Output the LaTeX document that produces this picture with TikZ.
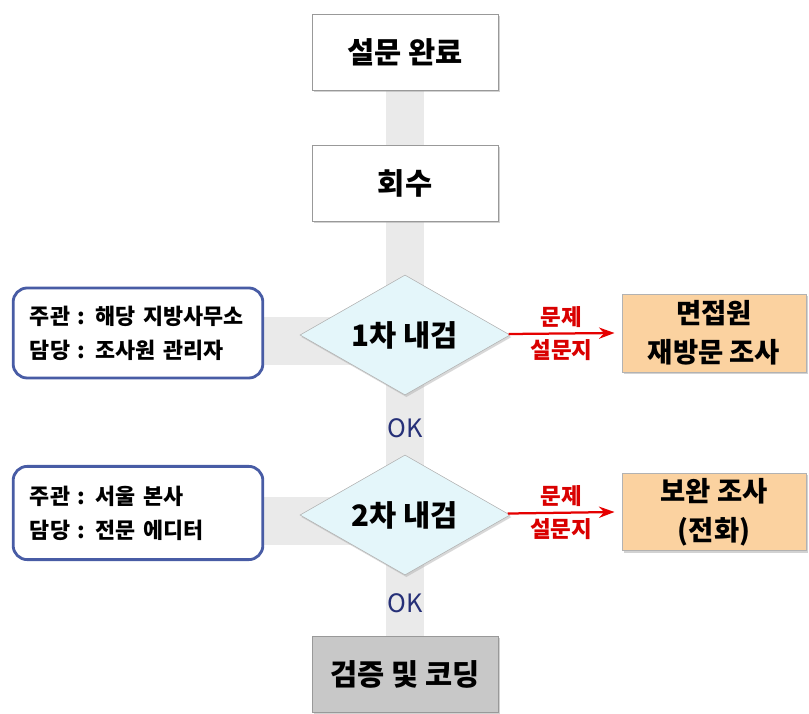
\documentclass[tikz,border=0pt]{standalone}
\usepackage{fontspec}
\setmainfont{Noto Sans CJK KR}
\newfontfamily\okfont{Noto Sans CJK KR}
\usepackage{xcolor}
\usetikzlibrary{shapes.geometric, arrows.meta, positioning, backgrounds, shadows}
\definecolor{bandgray}{RGB}{234,234,234}
\definecolor{orgblue}{RGB}{72,92,165}
\definecolor{checkcyan}{RGB}{228,246,250}
\definecolor{revisitorange}{RGB}{251,210,160}
\definecolor{okblue}{RGB}{38,48,120}
\definecolor{codinggray}{RGB}{200,200,200}

\begin{document}
\begin{tikzpicture}[
    x=0.025cm, y=-0.025cm,
    stepbox/.style={draw=gray!80, fill=white, minimum width=4.65cm, minimum height=1.9cm, font=\fontsize{21}{26}\selectfont\bfseries, drop shadow={shadow xshift=1.2pt, shadow yshift=-1.2pt, fill=gray!70}},
    check/.style={diamond, aspect=1.75, draw=gray!60, fill=checkcyan, inner sep=0pt, minimum width=5.25cm, minimum height=3cm, font=\fontsize{21}{26}\selectfont\bfseries, drop shadow={shadow xshift=1pt, shadow yshift=-1.5pt, fill=gray!60}},
    org/.style={draw=orgblue, line width=2pt, fill=white, rounded corners=10pt, text width=5.4cm, inner xsep=0.42cm, minimum height=2.25cm, align=left, font=\fontsize{15.5}{24}\selectfont\bfseries},
    redo/.style={draw=gray!60, fill=revisitorange, minimum width=4.6cm, minimum height=1.95cm, align=center, font=\fontsize{19.5}{28}\selectfont\bfseries, drop shadow={shadow xshift=1.5pt, shadow yshift=-1.5pt, fill=gray!70}},
    band/.style={bandgray, line width=0.95cm},
    fault/.style={font=\fontsize{16}{18}\selectfont\bfseries, text=red!85!black},
    ok/.style={font=\okfont\fontsize{18}{20}\selectfont, text=okblue}
]
    \useasboundingbox (0,0) rectangle (809,714);

    \node[stepbox] (done) at (405,52) {설문 완료};
    \node[stepbox] (collect) at (405,183) {회수};
    \node[check] (check1) at (405,335) {1차 내검};
    \node[check] (check2) at (405,515) {2차 내검};
    \node[stepbox, fill=codinggray] (coding) at (405,674) {검증 및 코딩};

    \node[org] (org1) at (138,333) {주관 : 해당 지방사무소\\담당 : 조사원 관리자};
    \node[org, minimum height=2.33cm] (org2) at (138,513) {주관 : 서울 본사\\담당 : 전문 에디터};

    \node[redo] (revisit) at (714,333) {면접원\\재방문 조사};
    \node[redo, minimum height=1.9cm] (phone) at (714,512) {보완 조사\\(전화)};

    \node[ok] (ok1) at (405,428) {OK};
    \node[ok] (ok2) at (405,603) {OK};

    \draw[-{Stealth[length=11pt, width=8pt]}, red!90!black, line width=1.6pt] (check1) -- node[fault, above=0pt] {문제} node[fault, below=0pt] {설문지} ([xshift=-0.18cm]revisit.west);
    \draw[-{Stealth[length=11pt, width=8pt]}, red!90!black, line width=1.6pt] (check2) -- node[fault, above=0pt] {문제} node[fault, below=0pt] {설문지} ([xshift=-0.18cm]phone.west);

    \begin{scope}[on background layer]
        \draw[band] (done.center) -- (coding.center);
        \draw[band, line width=1.2cm] ([yshift=-0.2cm]org1.center) -- ([yshift=-0.2cm]org1.center -| check1.center);
        \draw[band, line width=1.2cm] ([yshift=-0.2cm]org2.center) -- ([yshift=-0.2cm]org2.center -| check2.center);
    \end{scope}
\end{tikzpicture}
\end{document}
